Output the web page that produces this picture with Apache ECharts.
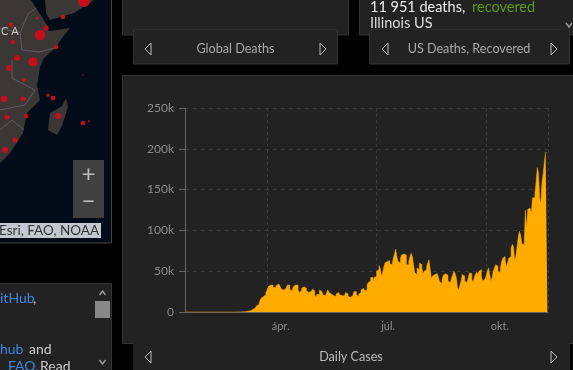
<!DOCTYPE html>
<html>
<head>
<meta charset="utf-8">
<style>
  html, body { margin: 0; padding: 0; background: #000; overflow: hidden; }
  #chart-container { width: 573px; height: 370px; }
</style>
<script src="https://cdn.jsdelivr.net/npm/echarts@6/dist/echarts.min.js"></script>
</head>
<body>
<div id="chart-container"></div>
<script>
// daily cases in thousands, one array per month of 2020
const janCases = [0, 0, 0, 0, 0, 0, 0, 0, 0, 0];
const febCases = [0, 0, 0, 0, 0, 0, 0, 0, 0, 0, 0, 0, 0, 0, 0, 0, 0, 0, 0, 0, 0, 0, 0, 0, 0, 0, 0, 0, 0];
const marCases = [0, 0, 0, 0, 0.1, 0.1, 0.1, 0.1, 0.2, 0.3, 0.3, 0.4, 0.6, 0.8, 1, 1.5, 2, 3, 4, 5, 6, 7.5, 9, 11, 14, 17, 19, 20, 21, 24, 27];
const aprCases = [31, 33, 34, 33, 30, 30, 31, 33, 34, 34, 31, 28, 27, 27, 29, 31, 33, 33, 28, 26, 27, 31, 33, 34, 33, 27, 24, 26, 29, 31];
const mayCases = [33, 29, 26, 24, 24, 25, 27, 28, 26, 21, 18, 22, 21, 27, 25, 24, 21, 20, 21, 24, 27, 24, 22, 20, 20, 18, 19, 22, 24, 24, 21];
const junCases = [20, 21, 20, 22, 24, 22, 19, 18, 18, 20, 22, 25, 25, 21, 19, 22, 24, 27, 29, 31, 26, 27, 33, 36, 38, 42, 43, 38, 42, 44];
const julCases = [50, 52, 57, 54, 44, 48, 55, 60, 62, 64, 63, 59, 58, 60, 66, 71, 77, 68, 62, 60, 66, 70, 71, 72, 70, 58, 58, 62, 68, 72, 68];
const augCases = [58, 48, 46, 54, 52, 60, 58, 54, 47, 50, 52, 56, 60, 64, 52, 41, 44, 46, 48, 47, 48, 42, 37, 35, 40, 45, 47, 46, 45, 38, 36];
const sepCases = [38, 42, 46, 50, 47, 42, 30, 27, 33, 38, 46, 44, 38, 36, 38, 42, 48, 47, 40, 36, 42, 46, 49, 46, 50, 52, 44, 38, 40, 42];
const octCases = [44, 50, 54, 46, 38, 42, 50, 54, 58, 56, 50, 48, 54, 62, 66, 68, 64, 56, 60, 66, 68, 78, 83, 80, 63, 68, 80, 92, 99, 94, 84];
const novCases = [82, 85, 125, 103, 126, 127, 128, 121, 140, 140, 145, 160, 177, 170, 140, 133, 160, 170, 185, 196, 195];

const dailyCases = [].concat(janCases, febCases, marCases, aprCases, mayCases, junCases, julCases, augCases, sepCases, octCases, novCases);

// tick positions as day number from Jan 22
const monthTicks = { 69: "ápr.", 161: "júl.", 253: "okt." };
const days = dailyCases.map((v, i) => String(i));
const isMonthTick = (i) => monthTicks[i] !== undefined;

const PANEL = "#222222";
const EDGE = "#333333";
const LAND = "#3a3735";

const panel = (x, y, w, h, fill, stroke) => ({
  type: "rect",
  z: -5,
  shape: { x, y, width: w, height: h },
  style: { fill: fill || PANEL, stroke: stroke || "none", lineWidth: 1 },
});

const text = (x, y, s, fill, size, align, z) => ({
  type: "text",
  z: z || -1,
  x,
  y,
  style: {
    text: s,
    fill,
    font: (size || 12) + "px Lato, sans-serif",
    align: align || "left",
    verticalAlign: "middle",
  },
});

const arrow = (x, y, dir) => ({
  type: "polyline",
  z: -1,
  shape: { points: [[x + 5 * dir, y - 6], [x - 1 * dir, y], [x + 5 * dir, y + 6], [x + 5 * dir, y - 6]] },
  style: { stroke: "#bbbbbb", lineWidth: 1, fill: "none" },
});

const chevron = (x, y, up) => ({
  type: "polyline",
  z: -1,
  shape: { points: [[x - 3, y + (up ? 2 : -2)], [x, y + (up ? -2 : 2)], [x + 3, y + (up ? 2 : -2)]] },
  style: { stroke: "#999999", lineWidth: 1.5, fill: "none" },
});

// map dots, picture coordinates: x, y, r
const mapDots = [
  [40, 35, 5.3], [11, 25, 2.3], [13, 42, 2.3], [46, 28, 2.6], [63, 17, 2.3], [84, 1, 6], [37, 18, 1.3],
  [56, 47, 2.3], [17, 58, 3], [33, 62, 4.6], [9, 68, 3], [24, 80, 2], [4, 99, 3.3], [23, 99, 2.6],
  [26, 116, 2.3], [7, 117, 2.6], [15, 140, 2.6], [5, 150, 3], [48, 95, 1.6], [53, 98, 2.3], [58, 116, 3],
  [83, 123, 2.3], [89, 121, 1], [83, 75, 0.7],
];

const decoration = [
  // map panel
  panel(-1, -1, 112.5, 244, "#020c18", "#444444"),
  {
    type: "polygon",
    z: -4,
    shape: {
      points: [[0, 0], [31, 0], [36, 8], [42, 17], [48, 27], [44, 29], [50, 31], [70, 28], [62, 38], [56, 47],
        [44, 58], [40, 67], [37, 85], [40, 100], [27, 113], [23, 133], [10, 153], [0, 163]],
    },
    style: { fill: LAND },
  },
  {
    type: "polygon",
    z: -4,
    shape: { points: [[45, 0], [94, 0], [74, 13], [50, 20], [46, 13]] },
    style: { fill: LAND },
  },
  {
    type: "polygon",
    z: -4,
    shape: { points: [[66, 98], [68, 107], [62, 126], [57, 135], [48, 130], [50, 113], [62, 106]] },
    style: { fill: LAND },
  },
  {
    type: "polyline",
    z: -4,
    shape: { points: [[0, 28], [20, 33], [28, 14], [36, 8]] },
    style: { stroke: "#6f6c78", lineWidth: 0.7, fill: "none" },
  },
  {
    type: "polyline",
    z: -4,
    shape: { points: [[20, 33], [22, 50], [40, 52], [58, 47]] },
    style: { stroke: "#6f6c78", lineWidth: 0.7, fill: "none" },
  },
  {
    type: "polyline",
    z: -4,
    shape: { points: [[12, 60], [12, 78], [35, 90], [25, 105], [0, 110]] },
    style: { stroke: "#6f6c78", lineWidth: 0.7, fill: "none" },
  },
  {
    type: "polyline",
    z: -4,
    shape: { points: [[0, 130], [12, 120], [24, 130]] },
    style: { stroke: "#6f6c78", lineWidth: 0.7, fill: "none" },
  },
  ...mapDots.map((d) => ({
    type: "circle",
    z: -3,
    shape: { cx: d[0], cy: d[1], r: d[2] },
    style: { fill: "#c50f1f" },
  })),
  text(1, 31, "C A", "#c8c8c8", 11),
  panel(73, 160, 31, 58, "#404040"),
  text(88.5, 174, "+", "#bdbdbd", 24, "center"),
  text(88.5, 201, "−", "#bdbdbd", 24, "center"),
  panel(-1, 223, 102, 15, "#c3c7cf"),
  text(-1, 231, "Esri, FAO, NOAA", "#333333", 13.5),

  // info panel bottom left
  panel(-1, 283.5, 112.5, 90, PANEL, EDGE),
  text(0, 298, "itHub", "#3f86e0", 14),
  text(33, 298, ",", "#cccccc", 14),
  text(0, 349, "hub", "#3f86e0", 14),
  text(29, 349, "and", "#cccccc", 14),
  text(8, 366, "FAQ.", "#3f86e0", 14),
  text(40, 366, "Read", "#cccccc", 14),
  panel(95, 301, 15, 17, "#888888"),
  chevron(102.5, 293, true),
  chevron(102.5, 362, false),

  // top panels
  panel(122.5, -1, 226, 36, PANEL, EDGE),
  panel(133.5, 30, 204, 34, PANEL, EDGE),
  panel(134, 30, 203, 6),
  text(235.5, 49, "Global Deaths", "#aaaaaa", 12.6, "center"),
  arrow(146, 49, 1),
  arrow(325, 49, -1),
  panel(359.5, -1, 220, 36, PANEL, EDGE),
  panel(369.5, 30, 200, 34, PANEL, EDGE),
  panel(370, 30, 199, 6),
  text(370, 7, "11 951 deaths,", "#eeeeee", 14.5),
  text(472, 7, "recovered", "#5f9a1f", 14.5),
  text(370, 23, "Illinois US", "#dddddd", 14.5),
  text(469, 49, "US Deaths, Recovered", "#aaaaaa", 12.6, "center"),
  arrow(383, 49, 1),
  arrow(556, 49, -1),
  chevron(569, 25, false),

  // main panel
  panel(122.5, 75.5, 460, 268, PANEL, EDGE),
  panel(133, 338, 437, 33, PANEL),
  text(351, 357, "Daily Cases", "#bbbbbb", 12.6, "center"),
  arrow(146, 357, 1),
  arrow(556, 357, -1),
];

const chart = echarts.init(document.getElementById("chart-container"), null, { renderer: "canvas" });

chart.setOption({
  animation: false,
  backgroundColor: "#000000",
  textStyle: { fontFamily: "Lato, sans-serif" },
  graphic: decoration,
  grid: { left: 185, top: 108, width: 363, height: 204 },
  xAxis: {
    type: "category",
    data: days,
    boundaryGap: true,
    axisLine: { lineStyle: { color: "#666666", width: 1 } },
    axisTick: {
      alignWithLabel: true,
      interval: (i) => isMonthTick(i),
      length: 5,
      lineStyle: { color: "#666666" },
    },
    axisLabel: {
      interval: (i) => isMonthTick(i),
      formatter: (v, i) => monthTicks[i] || "",
      color: "#8c8c8c",
      fontSize: 11,
      align: "left",
      margin: 9,
      padding: [0, 0, 0, 4],
    },
    splitLine: {
      show: true,
      interval: (i) => isMonthTick(i),
      lineStyle: { color: "#3a3a3a", type: [3, 3] },
    },
  },
  yAxis: {
    type: "value",
    min: 0,
    max: 250,
    interval: 50,
    axisLine: { show: true, lineStyle: { color: "#666666", width: 1 } },
    axisTick: { show: true, length: 6, lineStyle: { color: "#666666" } },
    axisLabel: {
      formatter: (v) => (v === 0 ? "0" : v + "k"),
      color: "#8c8c8c",
      fontSize: 12,
      margin: 11,
    },
    splitLine: { show: true, lineStyle: { color: "#3a3a3a", type: [4, 4] } },
  },
  series: [
    {
      type: "line",
      step: "middle",
      data: dailyCases,
      showSymbol: false,
      lineStyle: { color: "#ffab00", width: 0.5 },
      areaStyle: { color: "#ffab00", opacity: 1 },
      silent: true,
    },
  ],
});
</script>
</body>
</html>
